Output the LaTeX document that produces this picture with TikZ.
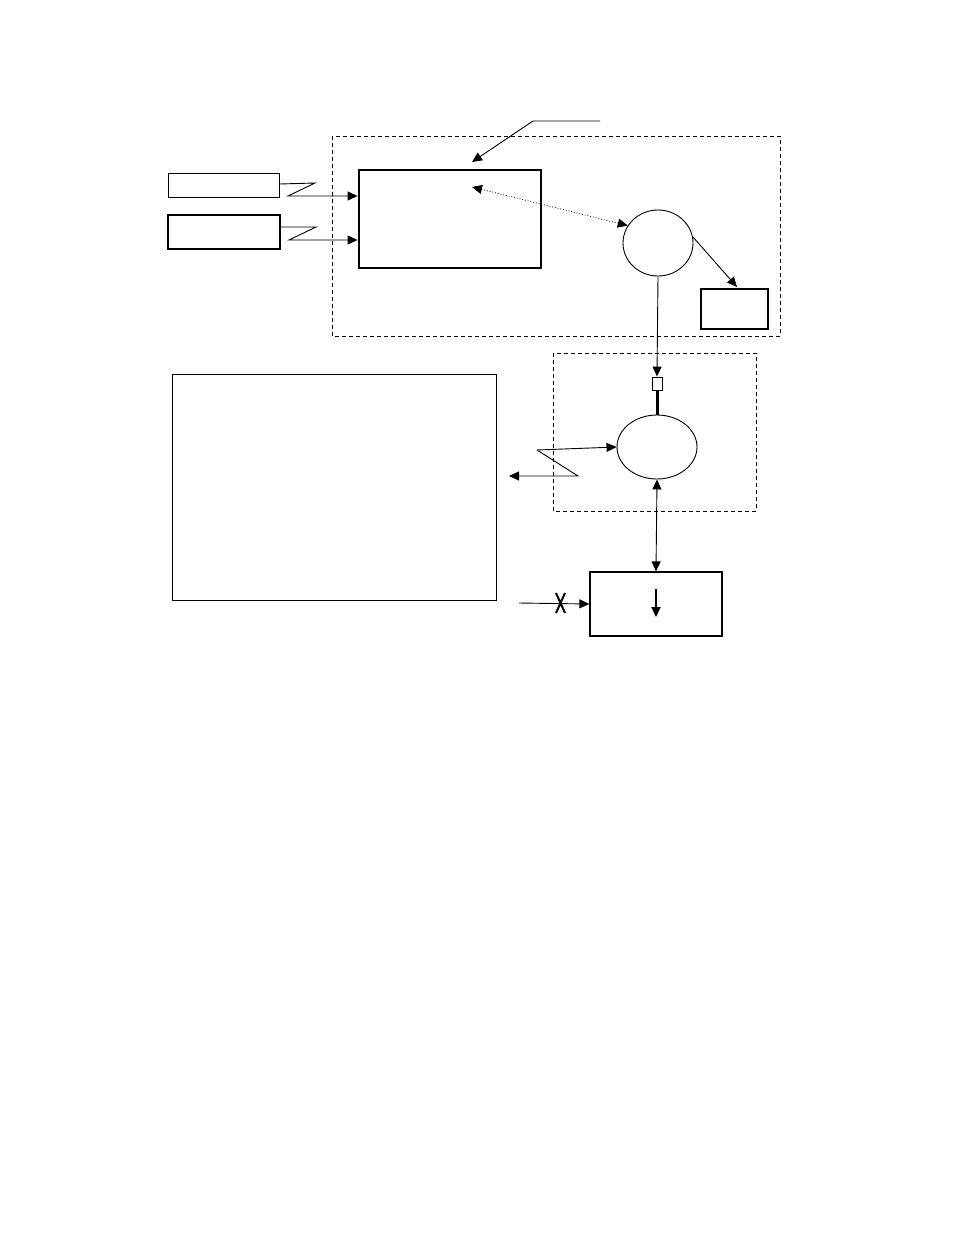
\documentclass[tikz,border=0pt]{standalone}
\usetikzlibrary{arrows.meta,shapes.geometric}
\begin{document}
\begin{tikzpicture}[x=1pt,y=-1pt,line width=0.9pt,
  tip/.style={-{Triangle[length=10pt,width=9pt]}},
  dtip/.style={{Triangle[length=10pt,width=9pt]}-{Triangle[length=10pt,width=9pt]}},
  dbox/.style={draw,dashed,line width=0.7pt,dash pattern=on 4pt off 3pt}]
\useasboundingbox (0,0) rectangle (954,1235);
\draw[dbox] (332,136) rectangle (780,336);
\draw[dbox] (553,353) rectangle (756,511);
\node[draw,line width=2.8pt,minimum width=182pt,minimum height=98pt,inner sep=0] (A) at (450,219) {};
\node[draw,minimum width=111pt,minimum height=24pt,inner sep=0] (B1) at (223.5,185) {};
\node[draw,minimum width=112pt,minimum height=34pt,inner sep=0,line width=1.3pt] (B2) at (224,232) {};
\node[draw,ellipse,minimum width=70pt,minimum height=66pt,inner sep=0] (C1) at (658,243) {};
\node[draw,line width=1.3pt,minimum width=67pt,minimum height=40pt,inner sep=0] (D) at (734.5,309) {};
\node[draw,minimum width=10pt,minimum height=13pt,inner sep=0] (S) at (657,383.5) {};
\node[draw,ellipse,minimum width=80pt,minimum height=64pt,inner sep=0] (C2) at (657,447) {};
\node[draw,line width=1.3pt,minimum width=132pt,minimum height=64pt,inner sep=0] (E) at (656,604) {};
\node[draw,minimum width=324pt,minimum height=226pt,inner sep=0] (F) at (334,487) {};
\coordinate (l0) at (600,121);
\draw[tip] (l0) -- (533,121) -- (472,162);
\draw[tip] (B1.east) ++(0,-1) -- (315,183) -- (288,196) -- (A.west |- 0,196);
\draw[tip] (B2.east) ++(0,-5) -- (316,227) -- (289,240) -- (A.west |- 0,240);
\draw[dtip,dotted,line width=0.8pt] (472,187) -- (C1.150);
\draw[tip] (C1.10) -- (737,287);
\draw[tip] (C1.south) -- (S.north);
\draw[line width=3pt] (S.south) -- (C2.north);
\draw[tip] (537,450) -- (C2.west);
\draw[tip] (537,450) -- (578,476) -- (509,476);
\draw[dtip] (C2.south) -- (E.north);
\draw[tip,line width=2pt] (656,589) -- (656,617);
\coordinate (x0) at (519,603);
\draw[tip] (x0) -- (E.west);
\draw[line width=2pt] (556,593) -- (565,613) (565,593) -- (556,613);
\end{tikzpicture}
\end{document}
